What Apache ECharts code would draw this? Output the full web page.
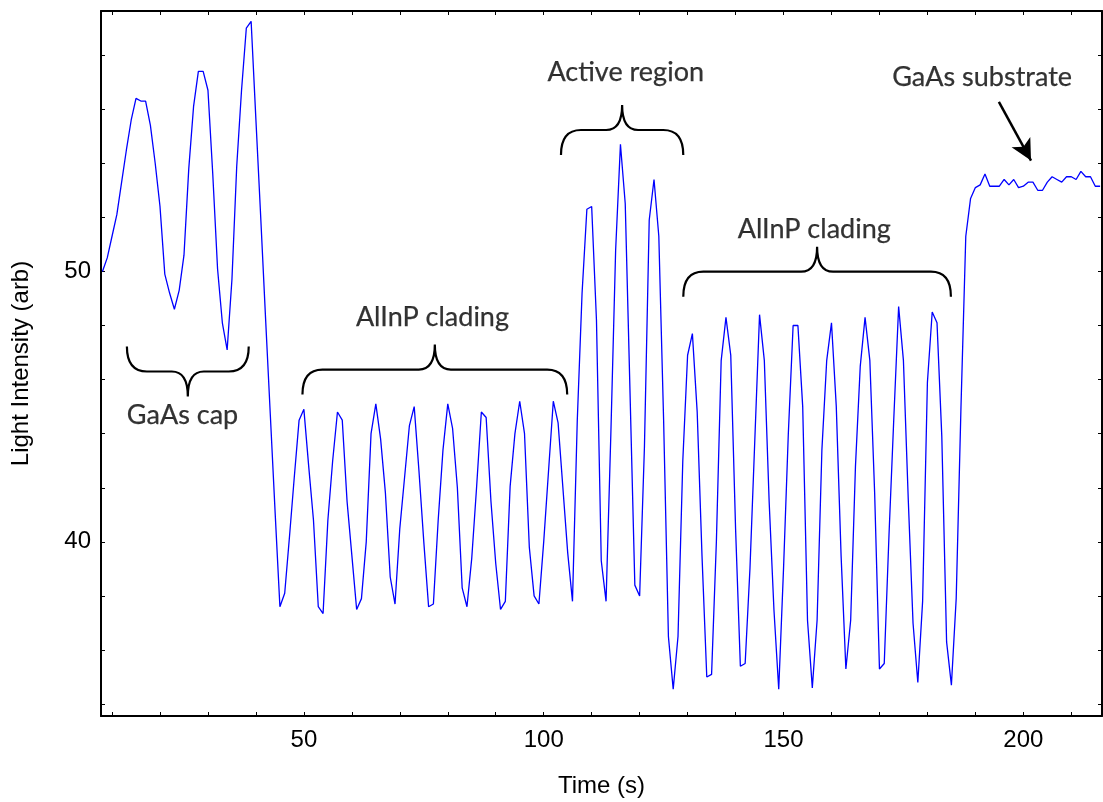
<!DOCTYPE html>
<html>
<head>
<meta charset="utf-8">
<title>Light Intensity vs Time</title>
<script src="https://cdn.jsdelivr.net/npm/echarts@6.0.0/dist/echarts.min.js"></script>
<style>
    html, body { margin: 0; padding: 0; background: #fff; }
    #chart { width: 1103px; height: 802px; }
</style>
</head>
<body>
<div id="chart"></div>
<script>
    // sampling: one reading per second, starting at t = 8 s
    var startTime = 8;
    var step = 1;

    // light intensity, t = 8 .. 216 s
    var intensity = [
        50.0, 50.5, 51.3, 52.1, 53.3, 54.5, 55.6, 56.4, 56.3, 56.3,
        55.4, 54.0, 52.4, 49.9, 49.2, 48.6, 49.3, 50.6, 53.8, 56.1,
        57.4, 57.4, 56.7, 53.6, 50.1, 48.1, 47.1, 49.7, 53.9, 56.7,
        59.0, 59.25, 55.6, 52.0, 48.3, 44.7, 41.1, 37.6, 38.1, 40.2,
        42.4, 44.5, 44.9, 42.8, 40.8, 37.6, 37.35, 40.8, 43.0, 44.8,
        44.5, 41.5, 39.5, 37.5, 37.9, 40.0, 44.0, 45.1, 43.8, 41.8,
        38.7, 37.7, 40.5, 42.4, 44.3, 45.0, 42.6, 40.0, 37.6, 37.7,
        40.8, 43.4, 45.1, 44.2, 42.0, 38.3, 37.6, 39.4, 42.0, 44.8,
        44.6, 41.5, 39.2, 37.5, 37.8, 42.05, 44.0, 45.2, 44.0, 39.8,
        38.0, 37.7, 40.0, 42.6, 45.2, 44.4, 42.0, 39.6, 37.8, 44.5,
        49.2, 52.3, 52.4, 48.2, 39.3, 37.8, 44.0, 50.8, 54.7, 52.5,
        45.5, 38.4, 38.0, 43.5, 51.9, 53.4, 51.3, 44.5, 36.5, 34.55,
        36.5, 43.0, 46.9, 47.7, 44.8, 39.5, 35.0, 35.1, 40.0, 46.7,
        48.3, 46.9, 40.5, 35.4, 35.5, 39.0, 43.7, 48.4, 46.7, 41.5,
        37.5, 34.55, 39.0, 44.0, 48.0, 48.0, 45.0, 37.1, 34.6, 37.1,
        43.4, 46.7, 48.1, 45.0, 39.5, 35.3, 37.1, 42.8, 46.5, 48.3,
        46.7, 41.8, 35.3, 35.5, 40.3, 44.6, 48.7, 46.7, 41.6, 37.0,
        34.8, 37.8, 45.9, 48.5, 48.1, 43.9, 36.3, 34.7, 37.9, 45.0,
        51.3, 52.7, 53.1, 53.2, 53.6, 53.15, 53.15, 53.15, 53.4, 53.2,
        53.4, 53.1, 53.15, 53.3, 53.3, 53.0, 53.0, 53.3, 53.5, 53.4,
        53.3, 53.5, 53.5, 53.4, 53.7, 53.5, 53.5, 53.15, 53.15
    ];

    // axis ticks and labels
    var xTicks = [10, 20, 30, 40, 50, 60, 70, 80, 90, 100, 110, 120, 130, 140, 150, 160, 170, 180, 190, 200, 210];
    var xLabels = [50, 100, 150, 200];
    var yTicks = [34, 36, 38, 40, 42, 44, 46, 48, 50, 52, 54, 56, 58];
    var yLabels = [40, 50];

    // annotations: label text and its centre (time, intensity)
    var noteTexts = ['GaAs cap', 'AlInP clading', 'Active region', 'AlInP clading', 'GaAs substrate'];
    var noteX = [24.7, 76.8, 117.1, 156.4, 191.4];
    var noteY = [44.67, 48.29, 57.38, 51.54, 57.16];

    // braces: start time, end time, intensity of the bar, tips down (1) or up (-1)
    var braceStart = [13.1, 49.7, 103.6, 129.1];
    var braceEnd = [38.5, 104.9, 129.1, 184.9];
    var braceLevel = [46.3, 46.37, 55.23, 49.99];
    var braceDir = [-1, 1, 1, 1];

    // arrow pointing at the substrate signal
    var arrowFrom = [194.9, 56.27];
    var arrowTo = [201.6, 54.1];

    var lineData = [];
    for (var i = 0; i < intensity.length; i++) {
        lineData.push([startTime + i * step, intensity[i]]);
    }
    var braceData = [];
    for (var j = 0; j < braceStart.length; j++) {
        braceData.push([braceStart[j], braceEnd[j], braceLevel[j], braceDir[j]]);
    }
    var noteData = [];
    for (var k = 0; k < noteTexts.length; k++) {
        noteData.push({ name: noteTexts[k], value: [noteX[k], noteY[k]] });
    }

    var axisFont = 'Liberation Sans, Arial, sans-serif';
    var noteFont = 'Lato, Open Sans, sans-serif';
    var xMin = 7.7, xMax = 216.4;
    var yMin = 33.56, yMax = 59.63;

    function frameAxis(extra) {
        var base = {
            type: 'value',
            axisLine: { show: true, onZero: false, lineStyle: { color: '#000', width: 2 } },
            axisTick: { show: true, inside: true, length: 4, lineStyle: { color: '#000', width: 1 } },
            splitLine: { show: false }
        };
        for (var key in extra) base[key] = extra[key];
        return base;
    }

    function renderBrace(params, api) {
        var p0 = api.coord([api.value(0), api.value(2)]);
        var p1 = api.coord([api.value(1), api.value(2)]);
        var s = api.value(3);
        var y = p0[1];
        var x0 = p0[0], x1 = p1[0], xc = (x0 + x1) / 2;
        var h = 25, r = 20, rc = 16, hc = 25;
        var d = 'M' + x0 + ',' + (y + s * h) +
            ' Q' + x0 + ',' + y + ' ' + (x0 + r) + ',' + y +
            ' L' + (xc - rc) + ',' + y +
            ' Q' + xc + ',' + y + ' ' + xc + ',' + (y - s * hc) +
            ' Q' + xc + ',' + y + ' ' + (xc + rc) + ',' + y +
            ' L' + (x1 - r) + ',' + y +
            ' Q' + x1 + ',' + y + ' ' + x1 + ',' + (y + s * h);
        return {
            type: 'path',
            shape: { pathData: d },
            style: { fill: 'none', stroke: '#000', lineWidth: 2.2 }
        };
    }

    var myChart = echarts.init(document.getElementById('chart'));
    var option = {
        animation: false,
        backgroundColor: '#fff',
        grid: { left: 101, right: 1, top: 11, bottom: 86, containLabel: false, outerBoundsMode: 'none' },
        xAxis: [
            frameAxis({
                position: 'bottom', min: xMin, max: xMax,
                axisTick: { show: true, inside: true, length: 4, customValues: xTicks, lineStyle: { color: '#000', width: 1 } },
                axisLabel: { customValues: xLabels, fontSize: 24, color: '#000', margin: 12, fontFamily: axisFont },
                name: 'Time (s)', nameLocation: 'middle', nameGap: 58,
                nameTextStyle: { fontSize: 24, color: '#000', fontFamily: axisFont }
            }),
            frameAxis({
                position: 'top', min: xMin, max: xMax,
                axisTick: { show: true, inside: true, length: 4, customValues: xTicks, lineStyle: { color: '#000', width: 1 } },
                axisLabel: { show: false }
            })
        ],
        yAxis: [
            frameAxis({
                position: 'left', min: yMin, max: yMax,
                axisTick: { show: true, inside: true, length: 4, customValues: yTicks, lineStyle: { color: '#000', width: 1 } },
                axisLabel: { customValues: yLabels, fontSize: 24, color: '#000', margin: 10, fontFamily: axisFont },
                name: 'Light Intensity (arb)', nameLocation: 'middle', nameGap: 68,
                nameTextStyle: { fontSize: 24, color: '#000', fontFamily: axisFont }
            }),
            frameAxis({
                position: 'right', min: yMin, max: yMax,
                axisTick: { show: true, inside: true, length: 4, customValues: yTicks, lineStyle: { color: '#000', width: 1 } },
                axisLabel: { show: false }
            })
        ],
        series: [
            {
                name: 'Light intensity',
                type: 'line',
                data: lineData,
                showSymbol: false,
                symbol: 'none',
                lineStyle: { color: '#0000ff', width: 1.3 },
                z: 3,
                markLine: {
                    silent: true,
                    symbol: ['none', 'arrow'],
                    symbolSize: [16, 21],
                    label: { show: false },
                    lineStyle: { color: '#000', width: 2.5, type: 'solid' },
                    data: [[{ coord: arrowFrom }, { coord: arrowTo }]]
                }
            },
            {
                name: 'braces',
                type: 'custom',
                renderItem: renderBrace,
                encode: { x: [0, 1], y: 2 },
                data: braceData,
                clip: false,
                silent: true,
                z: 4
            },
            {
                name: 'notes',
                type: 'scatter',
                data: noteData,
                symbolSize: 0,
                silent: true,
                label: {
                    show: true,
                    position: 'inside',
                    formatter: '{b}',
                    fontSize: 27,
                    color: '#000',
                    fontFamily: noteFont,
                    textBorderColor: '#000',
                    textBorderWidth: 0.25
                },
                z: 5
            }
        ]
    };
    myChart.setOption(option);
</script>
</body>
</html>
